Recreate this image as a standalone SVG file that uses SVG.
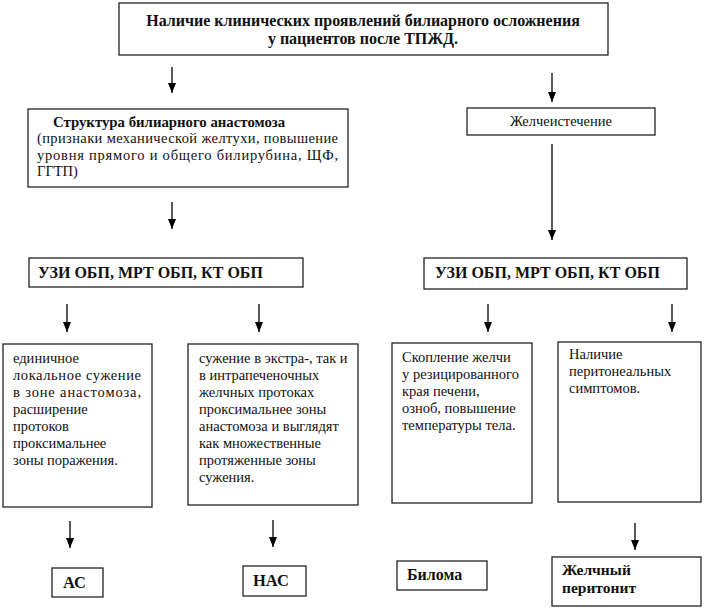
<svg xmlns="http://www.w3.org/2000/svg" width="722" height="609" viewBox="0 0 722 609">
<defs>
<marker id="ah" markerWidth="10" markerHeight="8" refX="10" refY="4" orient="auto" markerUnits="userSpaceOnUse" viewBox="0 0 10 8">
<path d="M0,0 L10,4 L0,8 Z" fill="#000"/>
</marker>
<style>
.box{fill:#fff;stroke:#222;stroke-width:1.3}
text{font-family:'Liberation Serif','DejaVu Serif',serif;font-size:14.5px;fill:#111}
.b{font-weight:bold}
.h{font-size:16px}
.s{font-size:14.8px}
.r{font-size:16.5px}
.p{font-size:15.5px}
.c{stroke:#000;stroke-width:1.3;fill:none;marker-end:url(#ah)}
</style>
</defs>
<rect width="722" height="609" fill="#fff"/>

<g id="n-top">
<rect class="box" x="119" y="3" width="489" height="52"/>
<text class="b h" x="363" y="26" text-anchor="middle">Наличие клинических проявлений билиарного осложнения</text>
<text class="b h" x="363" y="44" text-anchor="middle">у пациентов после ТПЖД.</text>
</g>

<g id="n-strict">
<rect class="box" x="28" y="109" width="320" height="78"/>
<text class="b s" x="53" y="127">Структура билиарного анастомоза</text>
<text x="37" y="143" textLength="301" lengthAdjust="spacing">(признаки механической желтухи, повышение</text>
<text x="37" y="160" textLength="301" lengthAdjust="spacing">уровня прямого и общего билирубина, ЩФ,</text>
<text x="37" y="176">ГГТП)</text>
</g>

<g id="n-leak">
<rect class="box" x="467" y="108" width="188" height="27"/>
<text x="561" y="126" text-anchor="middle">Желчеистечение</text>
</g>

<g id="n-uzi1">
<rect class="box" x="29" y="258" width="274" height="29"/>
<text class="b h" x="38" y="278">УЗИ ОБП, МРТ ОБП, КТ ОБП</text>
</g>

<g id="n-uzi2">
<rect class="box" x="424" y="258" width="263" height="31"/>
<text class="b h" x="435" y="278">УЗИ ОБП, МРТ ОБП, КТ ОБП</text>
</g>

<g id="n-single">
<rect class="box" x="3" y="344" width="149" height="163"/>
<text x="13" y="363">единичное</text>
<text x="13" y="380" textLength="128" lengthAdjust="spacing">локальное  сужение</text>
<text x="13" y="397" textLength="128" lengthAdjust="spacing">в  зоне  анастомоза,</text>
<text x="13" y="414">расширение</text>
<text x="13" y="431">протоков</text>
<text x="13" y="448">проксимальнее</text>
<text x="13" y="465">зоны поражения.</text>
</g>

<g id="n-multi">
<rect class="box" x="188" y="344" width="170" height="161"/>
<text x="199" y="363">сужение в экстра-, так и</text>
<text x="199" y="380">в интрапеченочных</text>
<text x="199" y="397">желчных протоках</text>
<text x="199" y="414">проксимальнее зоны</text>
<text x="199" y="431">анастомоза и выглядят</text>
<text x="199" y="448">как множественные</text>
<text x="199" y="465">протяженные зоны</text>
<text x="199" y="482">сужения.</text>
</g>

<g id="n-accum">
<rect class="box" x="392" y="343" width="140" height="160"/>
<text x="402" y="362">Скопление желчи</text>
<text x="402" y="379">у резицированного</text>
<text x="402" y="396">края печени,</text>
<text x="402" y="413">озноб, повышение</text>
<text x="402" y="430">температуры тела.</text>
</g>

<g id="n-perit-sympt">
<rect class="box" x="558" y="342" width="143" height="160"/>
<text x="569" y="359">Наличие</text>
<text x="569" y="376">перитонеальных</text>
<text x="569" y="393">симптомов.</text>
</g>

<g id="n-as">
<rect class="box" x="52" y="568" width="51" height="29"/>
<text class="b r" x="63" y="588">АС</text>
</g>

<g id="n-nas">
<rect class="box" x="243" y="566" width="63" height="30"/>
<text class="b r" x="253" y="586">НАС</text>
</g>

<g id="n-biloma">
<rect class="box" x="397" y="561" width="90" height="29"/>
<text class="b h" x="407" y="580">Билома</text>
</g>

<g id="n-peritonitis">
<rect class="box" x="552" y="557" width="149" height="49"/>
<text class="b p" x="562" y="575">Желчный</text>
<text class="b p" x="562" y="593">перитонит</text>
</g>

<g id="connectors">
<line class="c" x1="172" y1="67" x2="172" y2="93"/>
<line class="c" x1="552" y1="73" x2="552" y2="102"/>
<line class="c" x1="172" y1="202" x2="172" y2="229"/>
<line class="c" x1="552" y1="144" x2="552" y2="240"/>
<line class="c" x1="67" y1="304" x2="67" y2="332"/>
<line class="c" x1="259" y1="304" x2="259" y2="332"/>
<line class="c" x1="488" y1="304" x2="488" y2="332"/>
<line class="c" x1="672" y1="304" x2="672" y2="332"/>
<line class="c" x1="70" y1="521" x2="70" y2="548"/>
<line class="c" x1="273" y1="520" x2="273" y2="547"/>
<line class="c" x1="635" y1="523" x2="635" y2="550"/>
</g>
</svg>
